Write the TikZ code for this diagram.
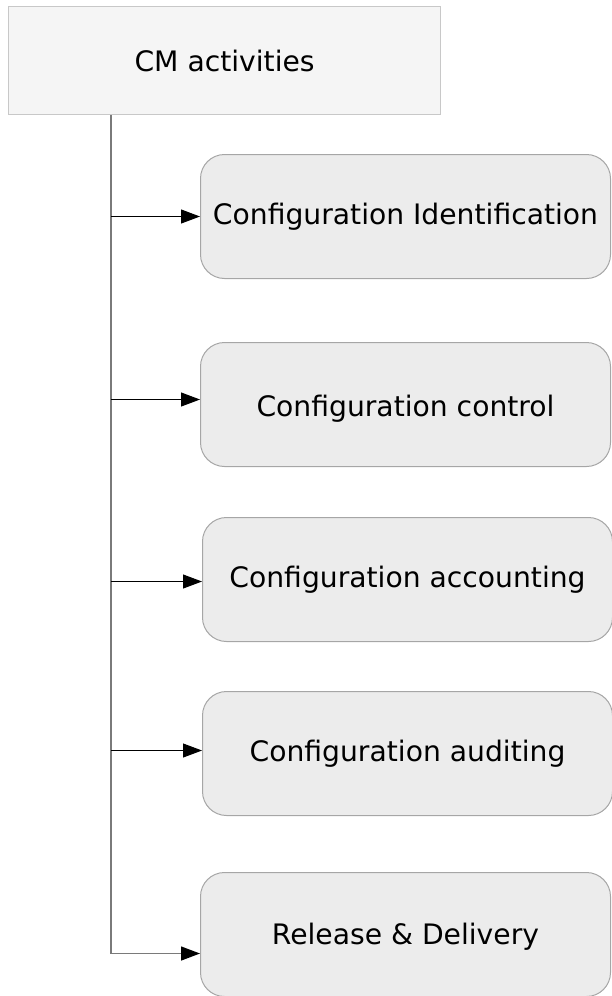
\documentclass[tikz,border=0pt]{standalone}
\usepackage{fontspec}
\setmainfont{DejaVu Sans}
\usetikzlibrary{arrows.meta,calc}
\definecolor{rootfill}{HTML}{F5F5F5}
\definecolor{rootline}{HTML}{C8C8C8}
\definecolor{actfill}{HTML}{ECECEC}
\definecolor{actline}{HTML}{A6A6A6}
\definecolor{trunkgray}{HTML}{7A7A7A}
\tikzset{
  rootbox/.style={draw=rootline, fill=rootfill, line width=1.2pt, rectangle,
    minimum width=432pt, minimum height=108pt, anchor=north west, inner sep=0pt,
    font=\fontsize{28.2}{34}\selectfont},
  actbox/.style={draw=actline, fill=actfill, line width=1pt, rectangle, rounded corners=24pt,
    minimum width=410pt, minimum height=124pt, anchor=north west, inner sep=0pt,
    text height=21pt, text depth=6pt,
    font=\fontsize{28.2}{34}\selectfont},
  trunk/.style={draw=trunkgray, line width=1.4pt},
  arr/.style={draw=black, line width=1pt,
    -{Triangle[length=19pt,width=14pt,fill=black,color=black]}},
}
\begin{document}
\begin{tikzpicture}[x=1pt,y=-1pt]
  \useasboundingbox (0,0) rectangle (611,996);

  % root and activity boxes
  \node[rootbox] (cm) at (8,6) {CM activities};
  \node[actbox] (b1) at (200,154) {Configuration Identification};
  \node[actbox] (b2) at (200,342) {\raisebox{-4pt}{Configuration control}};
  \node[actbox] (b3) at (202,517) {Configuration accounting};
  \node[actbox] (b4) at (202,691) {Configuration auditing};
  \node[actbox] (b5) at (200,872) {\raisebox{-2pt}{Release \& Delivery}};

  % vertical trunk below the root box
  \coordinate (t0) at ($(cm.south west)+(103,0)$);
  \coordinate (e1) at (b1.west);
  \coordinate (e2) at ($(b2.west)+(0,-5)$);
  \coordinate (e3) at ($(b3.west)+(0,2)$);
  \coordinate (e4) at ($(b4.west)+(0,-3)$);
  \coordinate (e5) at ($(b5.west)+(0,19)$);
  \coordinate (t5) at (t0 |- e5);

  \draw[trunk] (t0) -- (t5);

  % branches to each activity
  \draw[arr] (t0 |- e1) -- (e1);
  \draw[arr] (t0 |- e2) -- (e2);
  \draw[arr] (t0 |- e3) -- (e3);
  \draw[arr] (t0 |- e4) -- (e4);
  \draw[arr, draw=trunkgray, line width=1.4pt] (t5) -- (e5);
\end{tikzpicture}
\end{document}
